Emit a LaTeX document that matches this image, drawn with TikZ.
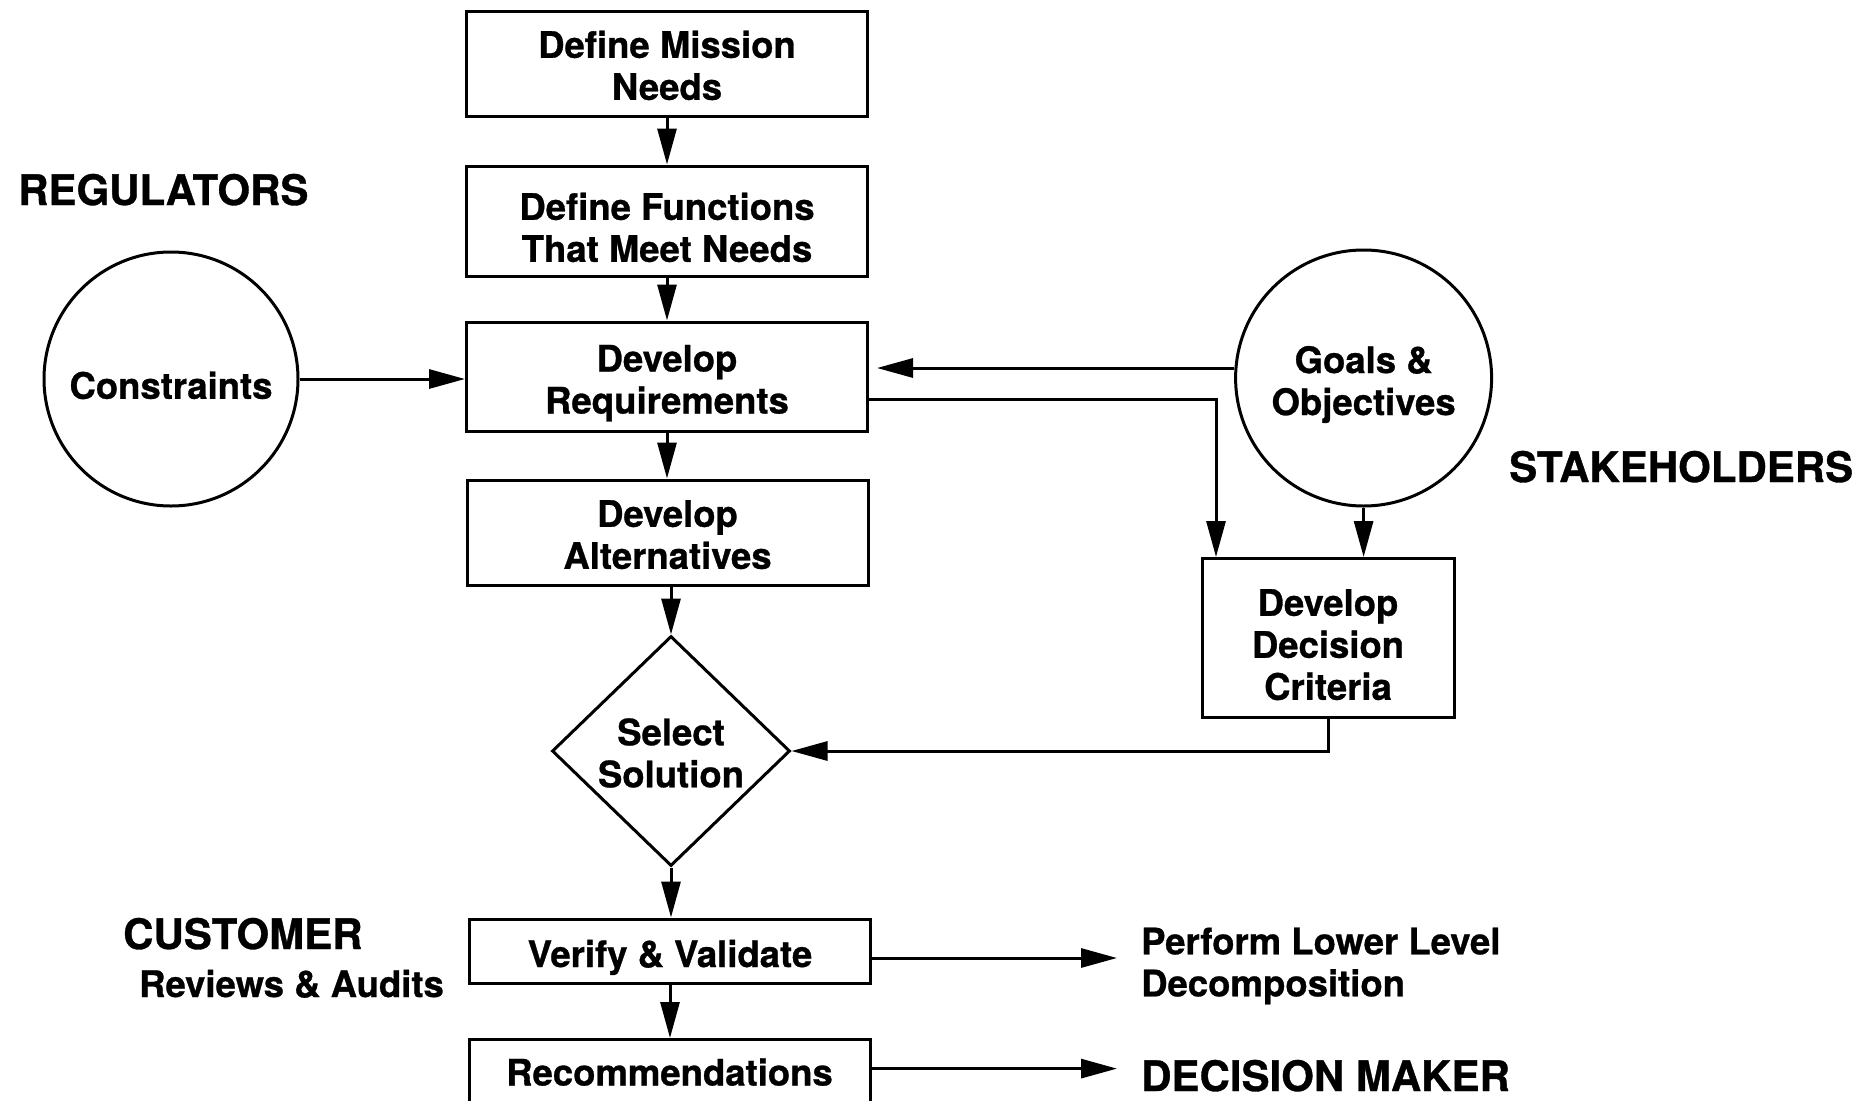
\documentclass[tikz,border=0pt]{standalone}
\usepackage{fontspec}
\setmainfont{TeX Gyre Heros}[BoldFeatures={FakeBold=0.8}]
\usetikzlibrary{arrows.meta,shapes.geometric}

% invisible struts that set the box text a little lower
\newcommand{\boxstrut}{\rule{0pt}{40pt}}
\newcommand{\lowstrut}{\rule{0pt}{31pt}}

\tikzset{
  every node/.style={inner sep=0pt},
  boxtext/.style={font=\fontsize{36.5}{42}\selectfont\bfseries, align=center},
  biglabel/.style={font=\fontsize{42}{48}\selectfont\bfseries},
  outline/.style={draw, line width=3pt},
  stepbox/.style={outline, boxtext, minimum width=401pt},
  bubble/.style={circle, outline, boxtext},
  choice/.style={diamond, outline, boxtext, aspect=1},
  arr/.style={line width=3pt, -{Triangle[length=36pt,width=19pt]}},
}

\begin{document}
\begin{tikzpicture}[x=1pt,y=-1pt]
  \useasboundingbox (0,0) rectangle (1876,1100);
  \fill[white] (0,0) rectangle (1876,1100);

  % main chain of steps
  \node[stepbox, minimum height=105pt] (mis) at (667,63.5) {\lowstrut Define Mission\\Needs};
  \node[stepbox, minimum height=110pt] (fun) at (667,221) {\boxstrut Define Functions\\That Meet Needs};
  \node[stepbox, minimum height=109pt] (req) at (667,376.5) {\boxstrut Develop\\Requirements};
  \node[stepbox, minimum height=105pt] (alt) at (667.5,532.5) {\lowstrut Develop\\Alternatives};
  \node[choice, minimum width=238pt, minimum height=230pt] (sel) at (671,751) {\lowstrut Select\\Solution};
  \node[stepbox, minimum height=64pt] (ver) at (670,951) {\boxstrut Verify \& Validate};
  \begin{scope}
    \clip (0,0) rectangle (1876,1100);
    \node[stepbox, inner ysep=8pt, text height=38pt, text depth=60pt, anchor=north]
      (rec) at (669.5,1038) {Recommendations};
  \end{scope}

  % inputs
  \node[bubble, minimum size=254pt] (con) at (171,379) {\boxstrut Constraints};
  \node[bubble, minimum size=256pt] (goa) at (1363.6,378) {\boxstrut Goals \&\\Objectives};
  \node[stepbox, minimum width=252pt, minimum height=159pt] (ddc) at (1328,638)
    {\boxstrut Develop\\Decision\\Criteria};

  % role labels
  \node[biglabel, anchor=base west] (regl) at (18,205) {REGULATORS};
  \node[biglabel, anchor=base west] (stk) at (1509,482) {STAKEHOLDERS};
  \node[biglabel, anchor=base west] (cus) at (123,949) {CUSTOMER};
  \node[boxtext, anchor=base west] (rev) at (139,997) {Reviews \& Audits};
  \node[boxtext, align=left, anchor=west] (pll) at (1141,966)
    {Perform Lower Level\\Decomposition};
  \node[biglabel, anchor=base west] (dmk) at (1141,1091) {DECISION MAKER};

  \coordinate (pllin) at (1117,958);
  \coordinate (dmin) at (1117,1068.6);

  % connectors
  \draw[arr] (mis.south) -- (fun.north);
  \draw[arr] (fun.south) -- (req.north);
  \draw[arr] (req.south) -- (req.south |- alt.north);
  \draw[arr] (sel.north |- alt.south) -- (sel.north);
  \draw[arr] (sel.south) -- (sel.south |- ver.north);
  \draw[arr] (ver.south) -- (ver.south |- rec.north);
  \draw[arr] (con.east) -- (con.east -| req.west);
  \draw[arr, shorten >=8pt] ([yshift=10pt]goa.west) -- ([yshift=10pt]goa.west -| req.east);
  \draw[arr] ([yshift=-23pt]req.east) -| ([xshift=-112pt]ddc.north);
  \draw[arr] (goa.south) -- (goa.south |- ddc.north);
  \draw[arr] (ddc.south) |- (sel.east);
  \draw[arr] ([yshift=-7pt]ver.east) -- (pllin);
  \draw[arr] ([yshift=-30.6pt]rec.north east) -- (dmin);
\end{tikzpicture}
\end{document}
